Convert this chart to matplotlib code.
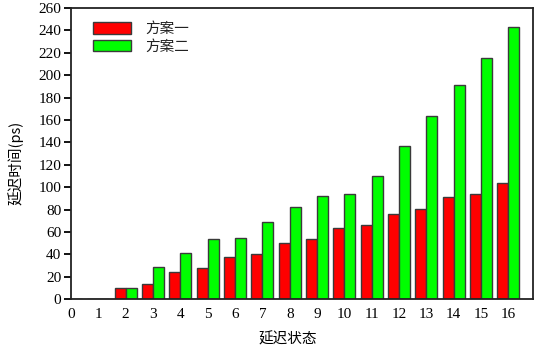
import matplotlib
matplotlib.use("Agg")
import matplotlib.pyplot as plt
import numpy as np

plt.rcParams['font.family'] = ['Liberation Serif', 'Noto Sans CJK SC']

categories = list(range(0, 17))
scheme1 = [0, 0, 10, 14, 24, 28, 38, 40, 50, 54, 64, 66, 76, 81, 91, 94, 104]
scheme2 = [0, 0, 10, 29, 41, 54, 55, 69, 82, 92, 94, 110, 137, 164, 191, 215, 243]
series_names = ['方案一', '方案二']
yticks = list(range(0, 261, 20))

fig = plt.figure(figsize=(5.39, 3.49), dpi=100)
ax = fig.add_axes([0.1317, 0.1424, 0.8572, 0.8346])

x = np.array(categories, dtype=float)
w = 0.4
ec = '#3a3a3a'
ax.bar(x - w / 2, scheme1, width=w, color='#ff0000', edgecolor=ec, linewidth=1.0, label=series_names[0])
ax.bar(x + w / 2, scheme2, width=w, color='#00ff00', edgecolor=ec, linewidth=1.0, label=series_names[1])

ax.set_xlim(0, 16.9)
ax.set_ylim(0, 260)
ax.set_xticks(categories)
ax.set_xticklabels([str(c) for c in categories])
ax.set_yticks(yticks)
ax.tick_params(axis='x', length=0, pad=6, labelsize=11)
ax.tick_params(axis='y', direction='out', length=5, width=1.3, labelsize=11, pad=2)
for s in ax.spines.values():
    s.set_linewidth(1.3)
    s.set_color('#222222')

ax.set_xlabel('延迟状态', fontsize=10.5)
ax.xaxis.set_label_coords(0.4686, -0.112)
ax.set_ylabel('延迟时间(ps)', fontsize=10.5, va='top', family=['Noto Sans CJK SC'])
ax.yaxis.set_label_coords(-0.136, 0.47)

leg = ax.legend(loc='upper left', bbox_to_anchor=(0.035, 0.972), frameon=False,
                fontsize=10.5, handlelength=2.6, handleheight=0.85,
                handletextpad=1.0, labelspacing=0.25, borderaxespad=0)
for t in leg.get_texts():
    t.set_color('#222222')

fig.savefig('out.png', dpi=100)
